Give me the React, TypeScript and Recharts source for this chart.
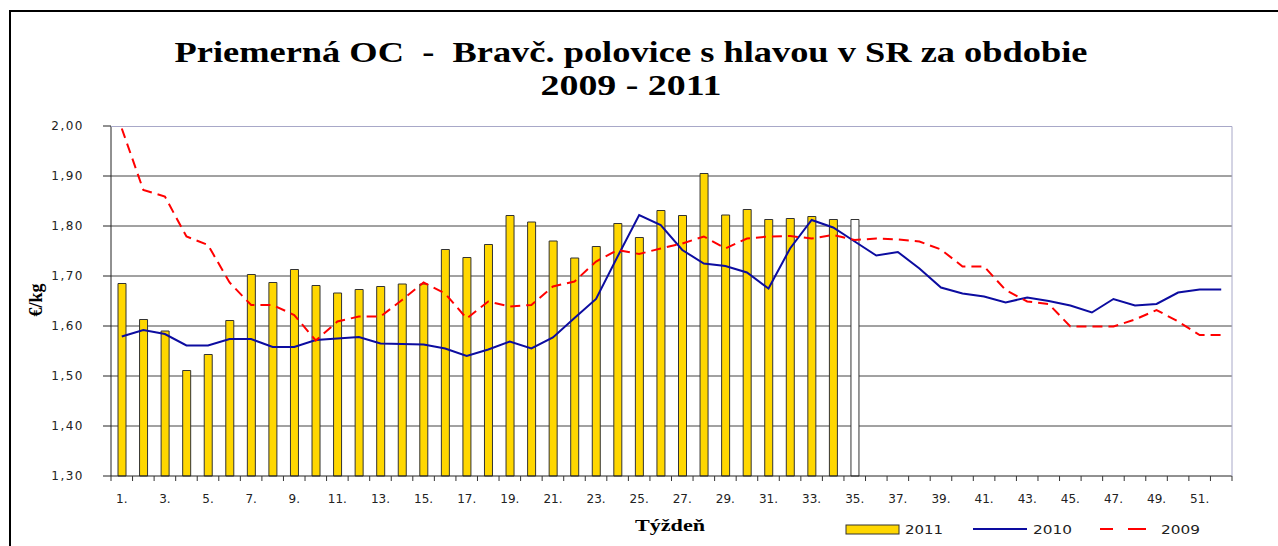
import { Bar, CartesianGrid, Cell, ComposedChart, Line, XAxis, YAxis } from 'recharts';

const weeks = Array.from({ length: 52 }, (_, i) => `${i + 1}.`);

const prices2011 = [
  1.685, 1.613, 1.59, 1.511, 1.543, 1.611, 1.703, 1.687, 1.713, 1.681, 1.666, 1.673, 1.679,
  1.684, 1.684, 1.753, 1.737, 1.763, 1.821, 1.808, 1.77, 1.736, 1.759, 1.805, 1.777, 1.831,
  1.821, 1.905, 1.822, 1.833, 1.813, 1.815, 1.819, 1.813, 1.813,
];

const prices2010 = [
  1.579, 1.592, 1.584, 1.561, 1.561, 1.574, 1.574, 1.558, 1.558, 1.572, 1.575, 1.578, 1.565,
  1.564, 1.563, 1.555, 1.54, 1.553, 1.569, 1.555, 1.577, 1.616, 1.654, 1.739, 1.822, 1.802,
  1.752, 1.725, 1.72, 1.707, 1.675, 1.755, 1.812, 1.797, 1.769, 1.741, 1.748, 1.715, 1.677,
  1.665, 1.659, 1.647, 1.657, 1.65, 1.641, 1.627, 1.654, 1.641, 1.644, 1.667, 1.673, 1.673,
];

const prices2009 = [
  1.995, 1.872, 1.859, 1.779, 1.762, 1.687, 1.642, 1.642, 1.622, 1.571, 1.609, 1.619, 1.619,
  1.652, 1.687, 1.665, 1.615, 1.649, 1.639, 1.642, 1.679, 1.689, 1.729, 1.752, 1.744, 1.755,
  1.765, 1.779, 1.755, 1.775, 1.779, 1.78, 1.775, 1.782, 1.772, 1.775, 1.773, 1.769, 1.753,
  1.719, 1.719, 1.672, 1.649, 1.644, 1.599, 1.599, 1.599, 1.613, 1.632, 1.609, 1.582, 1.582,
];

// the last 2011 week is drawn hollow (preliminary)
const hollowWeek = '35.';

const yTicks = [1.3, 1.4, 1.5, 1.6, 1.7, 1.8, 1.9, 2.0];
const gridValues = [1.4, 1.5, 1.6, 1.7, 1.8, 1.9];

const data = weeks.map((week, i) => ({
  week,
  y2011: prices2011[i] ?? null,
  y2010: prices2010[i] ?? null,
  y2009: prices2009[i] ?? null,
}));

const W = 1278;
const H = 546;
const margin = { top: 126, right: 46, bottom: 0, left: 51 };
const yAxisWidth = 60;
const plotLeft = margin.left + yAxisWidth;
const plotRight = W - margin.right;
const band = (plotRight - plotLeft) / weeks.length;

const tickFont = { fontFamily: '"DejaVu Sans", Verdana, sans-serif', fontSize: 12, fill: '#222' };
const serif = '"Liberation Serif", "Times New Roman", serif';

const WeekTick = (props: any) => {
  const { x, y, payload, index } = props;
  const half = band / 2;
  return (
    <g>
      <line x1={x - half} x2={x - half} y1={y - 7} y2={y - 2} stroke="#333" />
      {index === weeks.length - 1 && <line x1={x + half} x2={x + half} y1={y - 7} y2={y - 2} stroke="#333" />}
      {index % 2 === 0 && (
        <text x={x} y={y + 20} textAnchor="middle" {...tickFont}>
          {payload.value}
        </text>
      )}
    </g>
  );
};

const App = () => {
  return (
    <div style={{ position: 'relative', width: W, height: H, background: '#fff' }}>
      <style>{'body{margin:0;background:#fff}'}</style>
      <ComposedChart width={W} height={H} data={data} margin={margin}>
        <CartesianGrid vertical={false} horizontalValues={gridValues} stroke="#444" />
        <XAxis
          dataKey="week"
          interval={0}
          height={70}
          tickSize={5}
          tickMargin={2}
          tickLine={false}
          axisLine={{ stroke: '#222' }}
          tick={<WeekTick />}
        />
        <YAxis
          domain={[1.3, 2.0]}
          ticks={yTicks}
          width={yAxisWidth}
          tickSize={8}
          tickMargin={19}
          axisLine={{ stroke: '#222' }}
          tickLine={{ stroke: '#222' }}
          tick={{ ...tickFont, letterSpacing: 1.5 }}
          tickFormatter={(v: number) => v.toFixed(2).replace('.', ',')}
        />
        <Bar dataKey="y2011" barSize={8} fill="#FFD700" stroke="#333" strokeWidth={1} isAnimationActive={false}>
          {data.map((d) => (
            <Cell key={d.week} fill={d.week === hollowWeek ? '#ffffff' : '#FFD700'} />
          ))}
        </Bar>
        <Line type="linear" dataKey="y2010" stroke="#0c0ca0" strokeWidth={2} dot={false} isAnimationActive={false} />
        <Line
          type="linear"
          dataKey="y2009"
          stroke="#ff0000"
          strokeWidth={2}
          strokeDasharray="10 6"
          dot={false}
          isAnimationActive={false}
        />
      </ComposedChart>

      <svg width={W} height={H} style={{ position: 'absolute', left: 0, top: 0, pointerEvents: 'none' }}>
        <path d={`M10 ${H} L10 11 L${W} 11`} fill="none" stroke="#000" strokeWidth={2} />
        <path d={`M${plotLeft} 126.5 L${plotRight} 126.5 L${plotRight} 476`} fill="none" stroke="#a8a8c8" />

        <text
          x={631}
          y={62}
          textAnchor="middle"
          fontFamily={serif}
          fontWeight="bold"
          fontSize={29}
          textLength={913}
          lengthAdjust="spacingAndGlyphs"
          style={{ whiteSpace: 'pre' }}
        >
          {'Priemerná OC  -  Bravč. polovice s hlavou v SR za obdobie'}
        </text>
        <text x={631} y={95} textAnchor="middle" fontFamily={serif} fontWeight="bold" fontSize={29} textLength={181} lengthAdjust="spacingAndGlyphs">
          2009 - 2011
        </text>

        <text x={42} y={300} transform="rotate(-90 42 300)" textAnchor="middle" fontFamily={serif} fontWeight="bold" fontSize={18}>
          €/kg
        </text>
        <text x={670} y={531} textAnchor="middle" fontFamily={serif} fontWeight="bold" fontSize={16} textLength={70} lengthAdjust="spacingAndGlyphs">
          Týždeň
        </text>

        <rect x={846} y={525} width={53} height={9} fill="#FFD700" stroke="#333" />
        <text x={905} y={534} {...tickFont} fontSize={13} textLength={38} lengthAdjust="spacingAndGlyphs">2011</text>
        <line x1={973} x2={1027} y1={529} y2={529} stroke="#0c0ca0" strokeWidth={2} />
        <text x={1033} y={534} {...tickFont} fontSize={13} textLength={39} lengthAdjust="spacingAndGlyphs">2010</text>
        <line x1={1100} x2={1113} y1={529} y2={529} stroke="#ff0000" strokeWidth={2} />
        <line x1={1128} x2={1146} y1={529} y2={529} stroke="#ff0000" strokeWidth={2} />
        <text x={1161} y={534} {...tickFont} fontSize={13} textLength={39} lengthAdjust="spacingAndGlyphs">2009</text>
      </svg>
    </div>
  );
};

export default App;
